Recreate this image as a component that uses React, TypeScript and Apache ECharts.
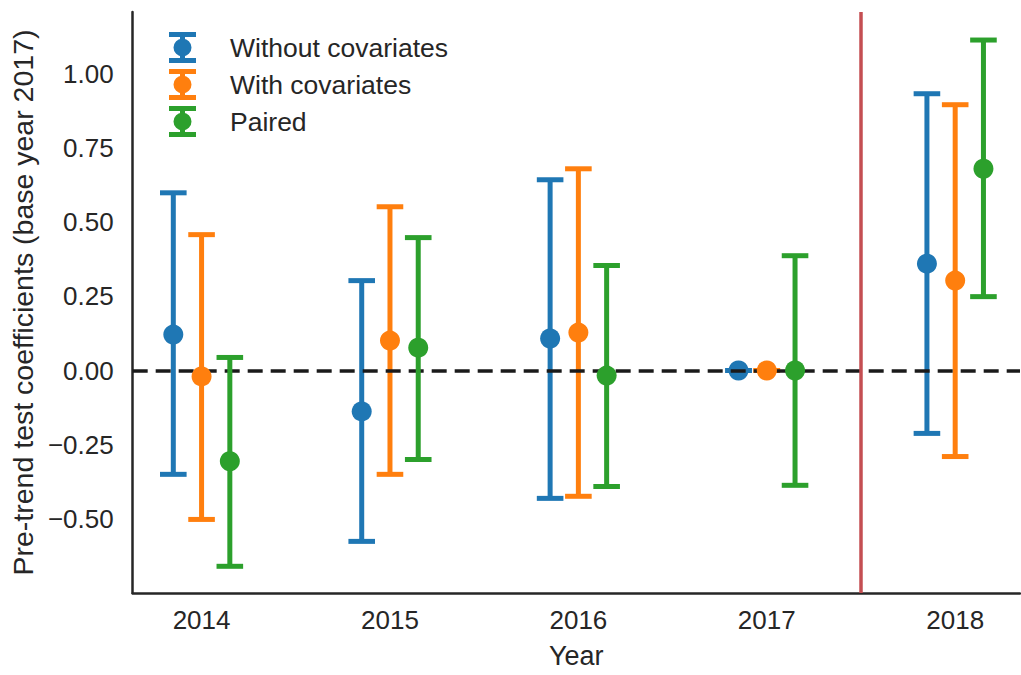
import React, { useEffect, useRef } from "react";
import * as echarts from "echarts";

const years = ["2014", "2015", "2016", "2017", "2018"];
const seriesNames = ["Without covariates", "With covariates", "Paired"];
const seriesColors = ["#1f77b4", "#ff7f0e", "#2ca02c"];
const dodge = [-0.15, 0, 0.15];

const withoutCovEst = [0.121, -0.138, 0.108, 0, 0.36];
const withoutCovLow = [-0.35, -0.576, -0.431, 0, -0.212];
const withoutCovHigh = [0.599, 0.303, 0.643, 0, 0.933];

const withCovEst = [-0.02, 0.101, 0.128, 0, 0.303];
const withCovLow = [-0.502, -0.35, -0.424, 0, -0.29];
const withCovHigh = [0.458, 0.552, 0.68, 0, 0.896];

const pairedEst = [-0.306, 0.077, -0.017, 0, 0.68];
const pairedLow = [-0.66, -0.3, -0.391, -0.387, 0.249];
const pairedHigh = [0.044, 0.448, 0.354, 0.387, 1.114];

const estimates = [withoutCovEst, withCovEst, pairedEst];
const lows = [withoutCovLow, withCovLow, pairedLow];
const highs = [withoutCovHigh, withCovHigh, pairedHigh];

const treatmentLine = 3.5; // between 2017 and 2018

const TEXT = "#262626";
const FONT = "'Liberation Sans', Arial, Helvetica, sans-serif";

const legendIcon =
  "path://M0,0H27V5H0Z M0,26H27V31H0Z M11,0H16V31H11Z M4.5,15.5A9,9,0,1,1,22.5,15.5A9,9,0,1,1,4.5,15.5Z";

export default function App() {
  const ref = useRef<HTMLDivElement>(null);

  useEffect(() => {
    if (!ref.current) return;
    const chart = echarts.init(ref.current, undefined, { renderer: "svg" });

    const series: any[] = [];
    series.push({
      type: "scatter",
      name: "__ref",
      data: [],
      silent: true,
      z: 1,
      markLine: {
        silent: true,
        symbol: ["none", "none"],
        label: { show: false },
        animation: false,
        data: [
          { yAxis: 0, lineStyle: { color: "#1a1a1a", width: 3.5, type: [15, 8] } },
          { xAxis: treatmentLine, lineStyle: { color: "#c44e52", width: 3.5, type: "solid" } },
        ],
      },
    });

    seriesNames.forEach((name, s) => {
      const color = seriesColors[s];
      const errData = years.map((_, i) => [i + dodge[s], lows[s][i], highs[s][i]]);
      const ptData = years.map((_, i) => [i + dodge[s], estimates[s][i]]);
      series.push({
        type: "custom",
        name,
        z: 2 + s * 2,
        itemStyle: { color },
        encode: { x: 0, y: [1, 2] },
        data: errData,
        renderItem: (params: any, api: any) => {
          const x = api.value(0);
          const lo = api.coord([x, api.value(1)]);
          const hi = api.coord([x, api.value(2)]);
          const hw = 13.3;
          const style = { stroke: color, lineWidth: 5, fill: "none" };
          return {
            type: "group",
            children: [
              { type: "line", shape: { x1: lo[0], y1: lo[1], x2: hi[0], y2: hi[1] }, style },
              { type: "line", shape: { x1: lo[0] - hw, y1: lo[1], x2: lo[0] + hw, y2: lo[1] }, style },
              { type: "line", shape: { x1: hi[0] - hw, y1: hi[1], x2: hi[0] + hw, y2: hi[1] }, style },
            ],
          };
        },
      });
      series.push({
        type: "scatter",
        name,
        z: 3 + s * 2,
        symbol: "circle",
        symbolSize: 20,
        itemStyle: { color, opacity: 1 },
        data: ptData,
      });
    });

    chart.setOption({
      animation: false,
      textStyle: { fontFamily: FONT },
      grid: { left: 131, right: 1, top: 12, bottom: 82, containLabel: false },
      legend: {
        orient: "vertical",
        left: 169,
        top: 32,
        padding: 0,
        itemWidth: 27,
        itemHeight: 31,
        itemGap: 6,
        selectedMode: false,
        textStyle: { fontSize: 26.5, color: TEXT, fontFamily: FONT, padding: [0, 0, 0, 29] },
        data: seriesNames.map((n, i) => ({ name: n, icon: legendIcon, itemStyle: { color: seriesColors[i] } })),
      },
      xAxis: {
        type: "value",
        min: -0.3656,
        max: 4.344,
        splitNumber: 5,
        name: "Year",
        nameLocation: "middle",
        nameGap: 49,
        nameTextStyle: { fontSize: 27, color: TEXT, fontFamily: FONT },
        axisLine: { show: true, onZero: false, lineStyle: { color: TEXT, width: 2.5 } },
        axisTick: { show: false },
        splitLine: { show: false },
        axisLabel: {
          fontSize: 26,
          color: TEXT,
          fontFamily: FONT,
          margin: 14,
          showMinLabel: false,
          showMaxLabel: false,
          formatter: (v: number) => {
            const r = Math.round(v);
            return Math.abs(v - r) < 1e-6 && r >= 0 && r < years.length ? years[r] : "";
          },
        },
      },
      yAxis: {
        type: "value",
        min: -0.75,
        max: 1.2085,
        interval: 0.25,
        name: "Pre-trend test coefficients (base year 2017)",
        nameLocation: "middle",
        nameRotate: 90,
        nameGap: 88,
        nameTextStyle: { fontSize: 28.5, color: TEXT, fontFamily: FONT },
        axisLine: { show: true, onZero: false, lineStyle: { color: TEXT, width: 2.5 } },
        axisTick: { show: false },
        splitLine: { show: false },
        axisLabel: {
          fontSize: 26,
          color: TEXT,
          fontFamily: FONT,
          margin: 19,
          showMinLabel: false,
          showMaxLabel: false,
          formatter: (v: number) => (v < 0 ? "\u2212" + Math.abs(v).toFixed(2) : v.toFixed(2)),
        },
      },
      series,
    });

    return () => chart.dispose();
  }, []);

  return (
    <div
      ref={ref}
      style={{ position: "fixed", left: 0, top: 0, width: 1021, height: 675, background: "#ffffff" }}
    />
  );
}
